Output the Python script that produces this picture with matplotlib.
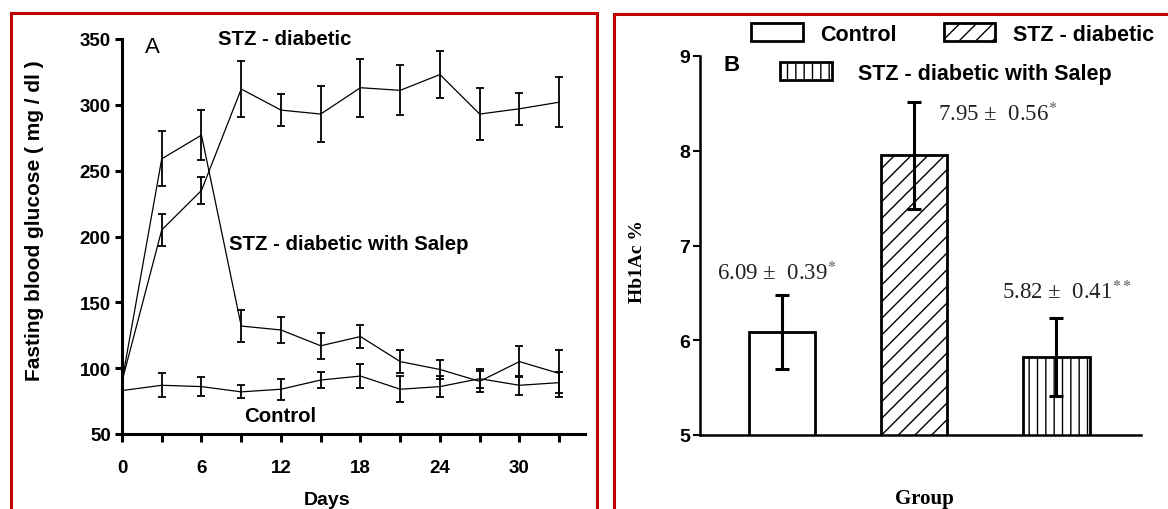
import matplotlib
matplotlib.use("Agg")
from matplotlib import pyplot as plt
from matplotlib.patches import Rectangle
import numpy as np

plt.rcParams['font.family'] = 'Liberation Sans'
plt.rcParams['mathtext.fontset'] = 'stix'
plt.rcParams['hatch.linewidth'] = 1.0

# Panel A: fasting blood glucose over days
days = [0, 3, 6, 9, 12, 15, 18, 21, 24, 27, 30, 33]
stz = [90, 205, 235, 312, 296, 293, 313, 311, 323, 293, 297, 302]
stz_err = [0, 12, 10, 21, 12, 21, 22, 19, 18, 20, 12, 19]
salep = [90, 259, 277, 132, 129, 117, 124, 105, 99, 90, 105, 96]
salep_err = [0, 21, 19, 12, 10, 10, 9, 9, 7, 8, 12, 18]
control = [83, 87, 86, 82, 84, 91, 94, 84, 86, 92, 87, 89]
control_err = [8, 9, 7, 5, 8, 6, 9, 10, 8, 7, 7, 8]

# Panel B: HbA1c per group
groups = ['Control', 'STZ - diabetic', 'STZ - diabetic with Salep']
hba1c = [6.09, 7.95, 5.82]
hba1c_err = [0.39, 0.56, 0.41]
hatches = ['', '//', '||']
notes = ['6.09 ±  0.39$^{*}$', '7.95 ±  0.56$^{*}$', '5.82 ±  0.41$^{**}$']

W, H = 1168, 510
fig = plt.figure(figsize=(W / 100, H / 100), dpi=100)

# red frames round the two panels
red = '#c00000'
fig.patches.append(Rectangle((11 / W, -0.1), (597 - 11) / W, 1.1 - 14 / H,
                             transform=fig.transFigure, fill=False,
                             edgecolor=red, linewidth=2.2))
fig.patches.append(Rectangle((614 / W, -0.1), 0.5, 1.1 - 15 / H,
                             transform=fig.transFigure, fill=False,
                             edgecolor=red, linewidth=2.2))

# ---------- panel A ----------
ax1 = fig.add_axes([122 / W, 1 - 435 / H, (585 - 122) / W, (435 - 40) / H])
for vals, errs in [(stz, stz_err), (salep, salep_err), (control, control_err)]:
    ax1.plot(days, vals, color='black', linewidth=0.9)
    ax1.errorbar(days[1:], vals[1:], yerr=errs[1:], fmt='none', ecolor='black',
                 elinewidth=1.3, capsize=3, capthick=1.3)
ax1.errorbar(days[:1], control[:1], yerr=control_err[:1], fmt='none', ecolor='black',
             elinewidth=1.3, capsize=0)

ax1.set_xlim(0, 34.95)
ax1.set_ylim(50, 350)
ax1.set_xticks(np.arange(0, 34, 3))
ax1.set_xticklabels([str(d) if d % 6 == 0 else '' for d in range(0, 34, 3)])
ax1.set_yticks(np.arange(50, 351, 50))
for s in ['top', 'right']:
    ax1.spines[s].set_visible(False)
for s in ['left', 'bottom']:
    ax1.spines[s].set_linewidth(2.2)
ax1.tick_params(axis='x', length=6, width=2.2, labelsize=13.5, pad=12)
ax1.tick_params(axis='y', length=5, width=2.2, labelsize=13.5, pad=3)
for lab in ax1.get_xticklabels() + ax1.get_yticklabels():
    lab.set_fontweight('bold')

ax1.set_ylabel('Fasting blood glucose ( mg / dl )', fontsize=15, fontweight='bold')
ax1.yaxis.set_label_coords(-0.168, 0.542)
ax1.set_xlabel('Days', fontsize=14, fontweight='bold')
ax1.xaxis.set_label_coords(0.443, -0.145)

ax1.text(2.26, 344, 'A', fontsize=16, ha='center', va='center')
ax1.text(12.3, 350, 'STZ - diabetic', fontsize=14.7, fontweight='bold',
         ha='center', va='center', clip_on=False)
ax1.text(8.07, 194.5, 'STZ - diabetic with Salep', fontsize=14.7,
         fontweight='bold', ha='left', va='center')
ax1.text(9.2, 64, 'Control', fontsize=14.7, fontweight='bold',
         ha='left', va='center')

# ---------- panel B ----------
ax2 = fig.add_axes([700 / W, 1 - 436 / H, (1141 - 700) / W, (436 - 57) / H])
xpos = [0, 1, 2.08]
handles = []
for i in range(3):
    b = ax2.bar(xpos[i], hba1c[i], width=0.5, bottom=0, color='white',
                edgecolor='black', linewidth=2, hatch=hatches[i], label=groups[i],
                zorder=2)
    handles.append(b)
ax2.errorbar(xpos, hba1c, yerr=hba1c_err, fmt='none', ecolor='black',
             elinewidth=2.2, capsize=5, capthick=2.2, zorder=3)

ax2.set_xlim(-0.62, 2.72)
ax2.set_ylim(5, 9)
ax2.set_xticks([])
ax2.set_yticks([5, 6, 7, 8, 9])
for s in ['top', 'right']:
    ax2.spines[s].set_visible(False)
for s in ['left', 'bottom']:
    ax2.spines[s].set_linewidth(1.8)
ax2.tick_params(axis='y', length=5, width=1.5, labelsize=14, pad=2)
for lab in ax2.get_yticklabels():
    lab.set_fontweight('bold')

ax2.set_ylabel('Hb1Ac %', fontsize=14, fontweight='bold', family='Liberation Serif')
ax2.yaxis.set_label_coords(-0.122, 0.46)
ax2.set_xlabel('Group', fontsize=15, fontweight='bold', family='Liberation Serif')
ax2.xaxis.set_label_coords(0.508, -0.14)

ax2.text(-0.38, 8.91, 'B', fontsize=16, fontweight='bold', ha='center', va='center')
note_pos = [(-0.49, 6.72), (1.18, 8.39), (1.67, 6.52)]
for (tx, ty), txt in zip(note_pos, notes):
    ax2.text(tx, ty, txt, fontsize=16.5, family='Liberation Serif',
             ha='left', va='center', color='#222222')

leg1 = fig.legend(handles=handles[:2], loc='center left',
                  bbox_to_anchor=(751 / W, 1 - 35 / H), ncol=2, frameon=False,
                  borderpad=0, borderaxespad=0, handlelength=2.4, handleheight=0.85,
                  handletextpad=0.8, columnspacing=2.2,
                  prop={'size': 15.5, 'weight': 'bold'})
leg2 = fig.legend(handles=handles[2:], loc='center left',
                  bbox_to_anchor=(780 / W, 1 - 74 / H), frameon=False,
                  borderpad=0, borderaxespad=0, handlelength=2.4, handleheight=0.85,
                  handletextpad=1.2, prop={'size': 15.5, 'weight': 'bold'})

plt.savefig('out.png', dpi=100)
